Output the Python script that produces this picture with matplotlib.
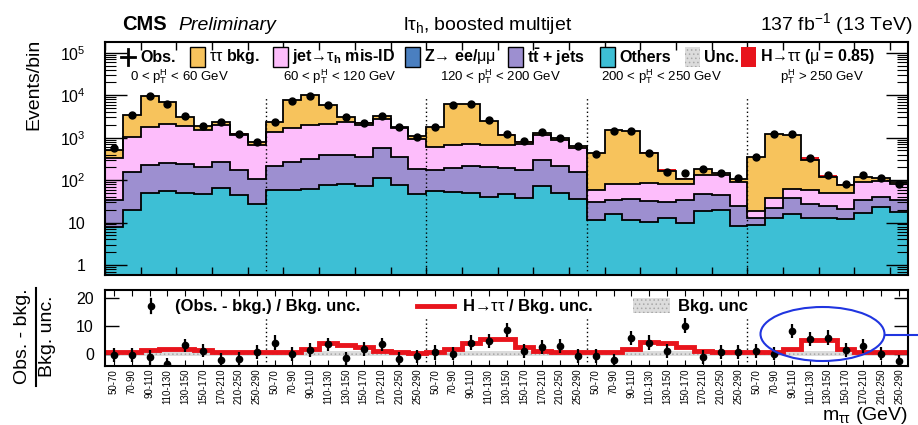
import numpy as np
import matplotlib
matplotlib.use('Agg')
import matplotlib.pyplot as plt
from matplotlib.patches import Rectangle, Ellipse
from matplotlib.lines import Line2D
from matplotlib.ticker import LogLocator, NullFormatter, FixedLocator

plt.rcParams['font.family'] = ['Liberation Sans', 'DejaVu Sans']
plt.rcParams['mathtext.fontset'] = 'custom'
plt.rcParams['mathtext.rm'] = 'Liberation Sans'
plt.rcParams['mathtext.it'] = 'Liberation Sans'
plt.rcParams['mathtext.bf'] = 'Liberation Sans:bold'
plt.rcParams['mathtext.fallback'] = 'stixsans'
plt.rcParams['hatch.linewidth'] = 0.6

# ---------------- data ----------------
mass_bins = ['50-70', '70-90', '90-110', '110-130', '130-150', '150-170',
             '170-210', '210-250', '250-290']
pt_labels = [r'0 < $\mathrm{p}_{\mathrm{T}}^{\mathrm{H}}$ < 60 GeV',
             r'60 < $\mathrm{p}_{\mathrm{T}}^{\mathrm{H}}$ < 120 GeV',
             r'120 < $\mathrm{p}_{\mathrm{T}}^{\mathrm{H}}$ < 200 GeV',
             r'200 < $\mathrm{p}_{\mathrm{T}}^{\mathrm{H}}$ < 250 GeV',
             r'$\mathrm{p}_{\mathrm{T}}^{\mathrm{H}}$ > 250 GeV']

others = [8, 20, 49, 55, 49, 47, 64, 44, 28,
          57, 60, 63, 76, 82, 72, 110, 76, 48,
          55, 53, 51, 40, 46, 38, 74, 51, 36,
          11.5, 16, 11.5, 10.5, 12.5, 10, 18.7, 19.6, 8.4,
          8.7, 12.5, 15.6, 13, 13, 12, 16.5, 23.5, 18]
ttbar = [25, 130, 173, 197, 183, 155, 202, 126, 76,
         161, 207, 243, 309, 303, 284, 444, 270, 130,
         115, 139, 156, 157, 141, 130, 217, 163, 114,
         19, 17, 22.5, 21.5, 16.5, 23, 26.3, 24.4, 16.1,
         3.5, 8.5, 20.4, 14, 11, 8.5, 16.5, 15.5, 15]
zll = [1, 2, 3, 3, 3, 3, 4, 2, 1,
       2, 3, 4, 5, 5, 4, 6, 4, 2,
       2, 3, 3, 3, 3, 2, 4, 3, 2,
       0.5, 1, 1, 1, 1, 1, 1, 1, 0.5,
       0.3, 0.5, 1, 1, 1, 0.5, 1, 1, 1]
jetfake = [296, 898, 1575, 1795, 1665, 1345, 1680, 1008, 585,
           1150, 1380, 1650, 1760, 1890, 1600, 2240, 1300, 770,
           438, 470, 505, 490, 475, 545, 855, 653, 423,
           29, 45, 48, 52, 53, 47, 89, 86, 66,
           6.1, 15.5, 26, 30, 26, 28, 57, 56, 48]
tautau = [190, 2450, 7700, 4850, 1200, 350, 350, 70, 80,
          1030, 5950, 8040, 3650, 720, 270, 400, 140, 150,
          1180, 5485, 5435, 1760, 515, 85, 150, 90, 55,
          365, 1421, 1367, 355, 80, 24, 43, 17, 13,
          336, 1163, 1087, 237, 69, 27, 25, 14, 9]
higgs = [3, 8, 25, 40, 40, 25, 10, 5, 2,
         5, 15, 40, 110, 80, 50, 25, 8, 4,
         3, 15, 60, 80, 70, 25, 10, 4, 2,
         1, 2, 8, 25, 15, 8, 3, 1, 1,
         1, 2, 6, 50, 15, 6, 2, 1, 1]
observed = [575, 3500, 9500, 6300, 3200, 1900, 2300, 1250, 800,
            2400, 7500, 9800, 5800, 3000, 2230, 3200, 1790, 1050,
            1790, 6050, 6300, 2550, 1230, 820, 1350, 980, 640,
            410, 1450, 1450, 440, 152, 145, 180, 150, 114,
            355, 1200, 1200, 333, 135, 79, 135, 110, 79]

pull_obs = [-0.5, -0.5, -1.4, -3.7, 3.0, 1.0, -2.2, -2.0, 0.5,
            4.0, -0.2, 1.3, 3.3, -1.7, 1.6, 3.3, -1.9, -1.0,
            0.4, 0.0, 4.0, 4.5, 8.5, 0.8, 2.3, 2.7, -0.8,
            -1.0, -2.3, 5.7, 4.0, 0.8, 10.0, -1.3, 0.7, 0.7,
            1.0, 0.0, 8.1, 5.2, 5.8, 1.2, 2.7, 0.0, -2.7]
pull_err = [2.6, 2.6, 2.6, 2.0, 2.4, 2.4, 2.4, 2.4, 2.5,
            2.6, 2.6, 2.6, 2.5, 2.4, 2.5, 2.4, 2.4, 2.4,
            2.6, 2.5, 2.6, 2.6, 2.6, 2.5, 2.5, 2.5, 2.5,
            2.5, 2.0, 2.6, 2.6, 2.5, 2.7, 2.5, 2.5, 2.5,
            2.5, 2.5, 2.6, 2.6, 2.6, 2.5, 2.5, 2.5, 2.0]
pull_higgs = [0.4, 0.4, 1.2, 1.8, 1.8, 1.2, 0.4, 0.4, 0.4,
              0.4, 0.5, 1.5, 4.0, 3.0, 2.2, 1.0, 0.4, 0.3,
              0.4, 1.8, 4.0, 5.2, 5.2, 2.2, 1.0, 0.4, 0.4,
              0.4, 0.6, 1.8, 4.2, 4.0, 2.5, 1.0, 0.4, 0.4,
              0.4, 0.5, 1.5, 5.0, 4.8, 1.5, 0.6, 0.4, 0.4]

# ---------------- style ----------------
c_tt = '#f7c35c'
c_fake = '#fdbdfb'
c_z = '#4a7fc0'
c_top = '#9d8fd0'
c_oth = '#3dbfd5'
c_h = '#e8141c'

W, H = 918, 425
fig = plt.figure(figsize=(W / 100, H / 100), dpi=100)

def fx(px):
    return px / W

def fy(py):
    return 1 - py / H

ax1 = fig.add_axes([fx(105), fy(275), fx(908) - fx(105), fy(42) - fy(275)])
ax2 = fig.add_axes([fx(105), fy(366), fx(908) - fx(105), fy(290) - fy(366)])

n = len(observed)
edges = np.arange(n + 1)
centers = edges[:-1] + 0.5

# ---------------- top panel ----------------
bottom = np.full(n, 1e-2)
tops = []
for vals, col in zip([others, ttbar, zll, jetfake, tautau],
                     [c_oth, c_top, c_z, c_fake, c_tt]):
    top = bottom + np.array(vals, float)
    ax1.stairs(top, edges, baseline=bottom, fill=True, color=col, lw=0)
    tops.append(top)
    bottom = top
ax1.stairs(bottom + np.array(higgs, float), edges, baseline=bottom,
           fill=True, color=c_h, lw=0)
for i, top in enumerate(tops):
    if i == 1:
        continue
    ax1.stairs(top, edges, baseline=None, color='k', lw=1.3)
ax1.plot(centers, observed, 'o', color='k', ms=5, zorder=5)

ax1.set_yscale('log')
ax1.set_xlim(0, n)
ax1.set_ylim(0.58, 1.8e5)
ax1.set_yticks([1, 10, 100, 1e3, 1e4, 1e5])
ax1.set_yticklabels(['1', '10', '$10^2$', '$10^3$', '$10^4$', '$10^5$'])
ax1.yaxis.set_minor_locator(LogLocator(base=10, subs=np.arange(2, 10)))
ax1.yaxis.set_minor_formatter(NullFormatter())
ax1.tick_params(axis='y', which='major', direction='in', length=16, width=1,
                left=True, right=True, labelsize=11.5, pad=14)
ax1.tick_params(axis='y', which='minor', direction='in', length=8, width=0.8,
                left=True, right=True)
ax1.xaxis.set_major_locator(FixedLocator(np.arange(0, n + 1, 2)))
ax1.tick_params(axis='x', which='major', direction='in', length=6, width=1,
                top=True, bottom=True, labelbottom=False)
for s in ax1.spines.values():
    s.set_linewidth(1.5)

for xb in [9, 18, 27, 36]:
    ax1.axvline(xb, ymin=0, ymax=0.77, ls=(0, (1, 2)), color='k', lw=1)
    ax2.axvline(xb, ymin=0, ymax=0.64, ls=(0, (1, 2)), color='k', lw=1)

for k, lab in enumerate(pt_labels):
    fig.text(fx(105 + (4.5 + 9 * k) * 803 / 45 - 6), fy(77), lab,
             ha='center', va='center', fontsize=9.5)

# ---------------- ratio panel ----------------
ax2.fill_between([0, n], -1, 1, facecolor='#dcdcdc', edgecolor='#a8a8a8',
                 hatch='....', lw=0, zorder=1)
ax2.stairs(pull_higgs, edges, baseline=None, color=c_h, lw=3.5, zorder=2)
ax2.errorbar(centers, pull_obs, yerr=pull_err, fmt='o', color='k', ms=4.5,
             elinewidth=1.6, capsize=0, zorder=4)
ax2.set_xlim(0, n)
ax2.set_ylim(-4.5, 23)
ax2.set_yticks([0, 10, 20])
ax2.tick_params(axis='y', which='major', direction='in', length=10, width=1,
                left=True, right=True, labelsize=11.5, pad=8)
ax2.set_xticks(centers)
ax2.set_xticklabels(mass_bins * 5, rotation=90, fontsize=7)
ax2.tick_params(axis='x', which='major', direction='in', length=4, width=0.8,
                top=True, bottom=True, pad=2)
for s in ax2.spines.values():
    s.set_linewidth(1.5)

# ---------------- texts ----------------
fig.text(fx(122), fy(30), 'CMS', fontsize=14.5, weight='bold', va='baseline')
fig.text(fx(178), fy(30), 'Preliminary', fontsize=14, style='italic',
         va='baseline')
fig.text(fx(403), fy(30), r'l$\tau_{\mathrm{h}}$, boosted multijet',
         fontsize=14, va='baseline')
fig.text(fx(913), fy(30), r'137 fb$^{-1}$ (13 TeV)', fontsize=14,
         ha='right', va='baseline')

fig.text(fx(34), fy(84), 'Events/bin', rotation=90, fontsize=14,
         ha='center', va='center')
fig.text(fx(23), fy(336), 'Obs. - bkg.', rotation=90, fontsize=14,
         ha='center', va='center')
fig.text(fx(48), fy(336), 'Bkg. unc.', rotation=90, fontsize=14,
         ha='center', va='center')
fig.add_artist(Line2D([fx(35.5), fx(35.5)], [fy(288), fy(386)], color='k',
                      lw=1.5, transform=fig.transFigure))
fig.text(fx(908), fy(420), r'm$_{\tau\tau}$ (GeV)', fontsize=14,
         ha='right', va='baseline')

# ---------------- top legend ----------------
LFS = 11.5
ly = 57
fig.add_artist(Line2D([fx(121), fx(135)], [fy(ly), fy(ly)], color='k', lw=2,
                      transform=fig.transFigure))
fig.add_artist(Line2D([fx(128), fx(128)], [fy(49), fy(65)], color='k', lw=2,
                      transform=fig.transFigure))
fig.text(fx(140), fy(ly), 'Obs.', fontsize=LFS, weight='bold', va='center')

def box(x, col, label, hatch=None, edge='k'):
    fig.add_artist(Rectangle((fx(x), fy(67)), fx(15), fy(47) - fy(67),
                             facecolor=col, edgecolor=edge, lw=1,
                             hatch=hatch, transform=fig.transFigure))
    fig.text(fx(x + 19), fy(ly), label, fontsize=LFS, weight='bold',
             va='center')

box(190, c_tt, r'$\tau\tau$ bkg.')
box(273, c_fake, r'jet→$\tau_{\mathbf{h}}$ mis-ID')
box(405, c_z, r'Z→ ee/$\mu\mu$')
box(508, c_top, r'$\mathbf{t\bar{t}}$ + jets')
box(600, c_oth, 'Others')
fig.add_artist(Rectangle((fx(685), fy(67)), fx(15), fy(47) - fy(67),
                         facecolor='#dcdcdc', edgecolor='#a8a8a8', lw=0,
                         hatch='....', transform=fig.transFigure))
fig.text(fx(704), fy(ly), 'Unc.', fontsize=LFS, weight='bold', va='center')
fig.add_artist(Rectangle((fx(741), fy(67)), fx(15), fy(47) - fy(67),
                         facecolor=c_h, edgecolor='none',
                         transform=fig.transFigure))
fig.text(fx(760), fy(ly), r'H→$\tau\tau$ ($\mu$ = 0.85)',
         fontsize=LFS, weight='bold', va='center')

# ---------------- ratio legend ----------------
ry = 306
fig.add_artist(Line2D([fx(151), fx(151)], [fy(299), fy(313)], color='k',
                      lw=1.6, transform=fig.transFigure))
fig.add_artist(Line2D([fx(151)], [fy(ry)], marker='o', ms=4.5, color='k',
                      transform=fig.transFigure))
fig.text(fx(175), fy(ry), '(Obs. - bkg.) / Bkg. unc.', fontsize=12,
         weight='bold', va='center')
fig.add_artist(Line2D([fx(417), fx(454)], [fy(ry), fy(ry)], color=c_h,
                      lw=3.5, transform=fig.transFigure))
fig.text(fx(462), fy(ry), r'H→$\tau\tau$ / Bkg. unc.', fontsize=12,
         weight='bold', va='center')
fig.add_artist(Rectangle((fx(633), fy(313)), fx(37), fy(298) - fy(313),
                         facecolor='#dcdcdc', edgecolor='#a8a8a8', lw=0,
                         hatch='....', transform=fig.transFigure))
fig.text(fx(678), fy(ry), 'Bkg. unc', fontsize=12, weight='bold',
         va='center')

# ---------------- annotation ellipse ----------------
fig.add_artist(Ellipse((fx(822.5), fy(334)), fx(124), fy(0) - fy(54),
                       facecolor='none', edgecolor='#2035e0', lw=1.5,
                       transform=fig.transFigure))
fig.add_artist(Line2D([fx(884.5), fx(918)], [fy(335), fy(335)],
                      color='#2035e0', lw=1.5, transform=fig.transFigure))

fig.savefig('out.png', dpi=100)
